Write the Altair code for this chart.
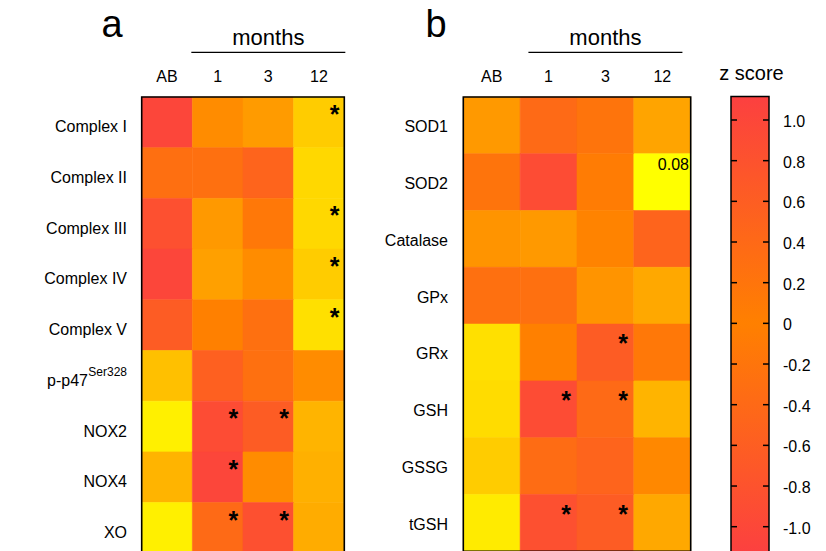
import altair as alt
import pandas as pd

FONT = "Liberation Sans"

# ---------------------------------------------------------------- data
months = ["AB", "1", "3", "12"]

rows_a = ["Complex I", "Complex II", "Complex III", "Complex IV", "Complex V",
          "p-p47", "NOX2", "NOX4", "XO"]
z_a = [
    [1.00, -0.10, -0.23, -0.66],
    [0.30, 0.28, 0.48, -0.76],
    [0.83, -0.22, 0.14, -0.76],
    [1.00, -0.28, -0.10, -0.66],
    [0.62, 0.00, 0.28, -0.83],
    [-0.55, 0.55, 0.28, -0.10],
    [-0.97, 0.90, 0.62, -0.45],
    [-0.45, 1.00, -0.10, -0.42],
    [-0.97, 0.38, 0.83, -0.38],
]
sig_a = [("Complex I", "12"), ("Complex III", "12"), ("Complex IV", "12"),
         ("Complex V", "12"), ("NOX2", "1"), ("NOX2", "3"), ("NOX4", "1"),
         ("XO", "1"), ("XO", "3")]
sup_a = {"p-p47": "Ser328"}

rows_b = ["SOD1", "SOD2", "Catalase", "GPx", "GRx", "GSH", "GSSG", "tGSH"]
z_b = [
    [-0.22, 0.38, 0.20, -0.31],
    [0.20, 0.90, 0.07, -1.10],
    [-0.17, -0.22, -0.03, 0.48],
    [0.28, 0.28, -0.17, -0.35],
    [-0.83, 0.00, 0.62, 0.14],
    [-0.80, 0.90, 0.38, -0.45],
    [-0.66, 0.35, 0.48, -0.07],
    [-0.93, 0.83, 0.62, -0.35],
]
sig_b = [("GRx", "3"), ("GSH", "1"), ("GSH", "3"), ("tGSH", "1"), ("tGSH", "3")]
note_b = [("SOD2", "12", "0.08")]

cbar_ticks = [1.0, 0.8, 0.6, 0.4, 0.2, 0.0, -0.2, -0.4, -0.6, -0.8, -1.0]
cbar_labels = ["1.0", "0.8", "0.6", "0.4", "0.2", "0",
               "-0.2", "-0.4", "-0.6", "-0.8", "-1.0"]
cbar_extent = [1.115, -1.13]

RED, ORANGE, YELLOW = "#fc4040", "#ff8000", "#ffff00"

cscale = alt.Scale(domain=[-1.1, 0, 1.1], range=[YELLOW, ORANGE, RED],
                   interpolate="rgb")

one = pd.DataFrame({"k": [0]})


def text(**kw):
    kw.setdefault("font", FONT)
    kw.setdefault("color", "black")
    return kw


def panel(rows, z, sig, notes, sup, xr, yr, label_x, label_dy, letter, letter_x):
    xs = alt.Scale(domain=months, range=xr, paddingInner=0, paddingOuter=0)
    ys = alt.Scale(domain=rows, range=yr, paddingInner=0, paddingOuter=0)

    def X(**kw):
        return alt.X("col:N", scale=xs, axis=None, **kw)

    def Y(**kw):
        return alt.Y("row:N", scale=ys, axis=None, **kw)

    cells = pd.DataFrame([{"row": r, "col": c, "z": v}
                          for r, vals in zip(rows, z)
                          for c, v in zip(months, vals)])
    heat = alt.Chart(cells).mark_rect(strokeWidth=0.6).encode(
        x=X(), y=Y(),
        color=alt.Color("z:Q", scale=cscale, legend=None),
        stroke=alt.Stroke("z:Q", scale=cscale, legend=None),
    )

    frame = alt.Chart(one).mark_rect(fill="transparent", stroke="black",
                                     strokeWidth=1.6).encode(
        x=alt.value(xr[0]), x2=alt.value(xr[1]),
        y=alt.value(yr[0]), y2=alt.value(yr[1]),
    )

    col_labels = alt.Chart(pd.DataFrame({"col": months})).mark_text(
        **text(fontSize=16, baseline="middle")
    ).encode(x=X(), y=alt.value(77), text="col:N")

    plain = [r for r in rows if r not in sup]
    row_labels = alt.Chart(pd.DataFrame({"row": plain})).mark_text(
        **text(fontSize=16, align="right", baseline="middle", dy=label_dy)
    ).encode(x=alt.value(label_x), y=Y(), text="row:N")

    layers = [heat, frame, col_labels, row_labels]

    if sup:
        sdf = pd.DataFrame({"row": list(sup.keys()), "sup": list(sup.values())})
        layers.append(alt.Chart(sdf).mark_text(
            **text(fontSize=16, align="right", baseline="middle", dy=label_dy)
        ).encode(x=alt.value(label_x - 39), y=Y(), text="row:N"))
        layers.append(alt.Chart(sdf).mark_text(
            **text(fontSize=12, align="right", baseline="middle", dy=label_dy - 9)
        ).encode(x=alt.value(label_x), y=Y(), text="sup:N"))

    stars = pd.DataFrame([{"row": r, "col": c, "m": "*"} for r, c in sig])
    layers.append(alt.Chart(stars).mark_text(
        **text(fontSize=25, fontWeight="bold", align="center", baseline="middle")
    ).encode(x=X(bandPosition=0.81), y=Y(bandPosition=0.355), text="m:N"))

    if notes:
        ndf = pd.DataFrame([{"row": r, "col": c, "t": t} for r, c, t in notes])
        layers.append(alt.Chart(ndf).mark_text(
            **text(fontSize=16, align="right", baseline="middle")
        ).encode(x=X(bandPosition=0.97), y=Y(bandPosition=0.19), text="t:N"))

    # "months" header spanning the three follow-up columns
    bw = (xr[1] - xr[0]) / len(months)
    cx = (xr[0] + bw + xr[1]) / 2
    layers.append(alt.Chart(one).mark_text(
        **text(text="months", fontSize=22, align="center", baseline="alphabetic")
    ).encode(x=alt.value(cx), y=alt.value(44.5)))
    layers.append(alt.Chart(one).mark_rule(color="black", strokeWidth=1.3).encode(
        x=alt.value(cx - 77), x2=alt.value(cx + 77), y=alt.value(52.3)))

    layers.append(alt.Chart(one).mark_text(
        **text(text=letter, fontSize=38, align="center", baseline="alphabetic")
    ).encode(x=alt.value(letter_x), y=alt.value(37)))

    return alt.layer(*layers)


pa = panel(rows_a, z_a, sig_a, [], sup_a, [141.7, 344.3], [97, 553.3],
           127, 5, "a", 112)
pb = panel(rows_b, z_b, sig_b, note_b, {}, [463.3, 690.7], [97, 551.2],
           448, 2, "b", 436)

# ---------------------------------------------------------------- colour bar
zs = alt.Scale(domain=[-1, 1], range=[526.7, 120], nice=False, zero=False)
mid = cbar_extent[0] / (cbar_extent[0] - cbar_extent[1])
grad = alt.LinearGradient(
    gradient="linear", x1=0, x2=0, y1=0, y2=1,
    stops=[alt.GradientStop(offset=0, color=RED),
           alt.GradientStop(offset=mid, color=ORANGE),
           alt.GradientStop(offset=1, color=RED)],
)
bar = alt.Chart(pd.DataFrame({"top": [cbar_extent[0]], "bottom": [cbar_extent[1]]})
                ).mark_rect(fill=grad, stroke="black", strokeWidth=1.5).encode(
    y=alt.Y("top:Q", scale=zs, axis=None), y2="bottom:Q",
    x=alt.value(731), x2=alt.value(769),
)
ticks = pd.DataFrame({"tick": cbar_ticks, "label": cbar_labels})
tick_l = alt.Chart(ticks).mark_rule(color="black", strokeWidth=1.5).encode(
    y=alt.Y("tick:Q", scale=zs, axis=None), x=alt.value(731), x2=alt.value(737))
tick_r = alt.Chart(ticks).mark_rule(color="black", strokeWidth=1.5).encode(
    y=alt.Y("tick:Q", scale=zs, axis=None), x=alt.value(763), x2=alt.value(769))
tick_t = alt.Chart(ticks).mark_text(
    **text(fontSize=16, align="left", baseline="middle", dy=2)
).encode(y=alt.Y("tick:Q", scale=zs, axis=None), x=alt.value(783), text="label:N")
cb_title = alt.Chart(one).mark_text(
    **text(text="z score", fontSize=20, align="center", baseline="alphabetic")
).encode(x=alt.value(751.5), y=alt.value(80))
cb = alt.layer(bar, tick_l, tick_r, tick_t, cb_title)

chart = (
    alt.layer(pa, pb, cb)
    .resolve_scale(x="independent", y="independent")
    .properties(width=826, height=551, padding=0,
                autosize=alt.AutoSizeParams(type="none"))
    .configure_view(stroke=None)
)

chart.save("out.html", embed_options={"renderer": "svg", "actions": False})
